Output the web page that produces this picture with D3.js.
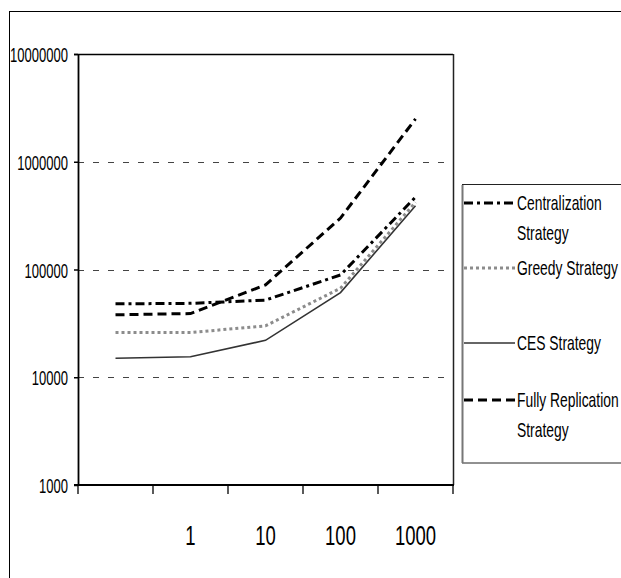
<!DOCTYPE html>
<html><head><meta charset="utf-8">
<script src="https://cdn.jsdelivr.net/npm/d3@7"></script>
<style>
html,body{margin:0;padding:0;background:#fff;}
svg{display:block;font-family:"Liberation Sans",Arial,sans-serif;}
</style></head>
<body><svg id="c" width="621" height="578"></svg>
<script>
const categories = ["", "1", "10", "100", "1000"];
const centralization = [48000, 48500, 52000, 89000, 470000];
const greedy = [26000, 26000, 30000, 67000, 420000];
const ces = [15000, 15500, 22000, 61000, 390000];
const fully = [38000, 39000, 72000, 300000, 2500000];
const yTicks = [1000, 10000, 100000, 1000000, 10000000];
const gridTicks = [10000, 100000, 1000000];
const seriesNames = [["Centralization", "Strategy"], ["Greedy Strategy"], ["CES Strategy"], ["Fully Replication", "Strategy"]];

const svg = d3.select("#c");
const L = 78, R = 453, T = 54, B = 485;

// outer frame
svg.append("rect").attr("x", 9.5).attr("y", 11.5).attr("width", 700).attr("height", 700)
  .attr("fill", "none").attr("stroke", "#000").attr("stroke-width", 1);

const x = d3.scaleBand().domain(d3.range(categories.length)).range([L, R]);
const xp = d3.scalePoint().domain(d3.range(categories.length)).range([L, R]).padding(0.5);
const y = d3.scaleLog().domain([1000, 10000000]).range([B, T]);

// gridlines
svg.append("g").selectAll("line").data(gridTicks).join("line")
  .attr("x1", L).attr("x2", R).attr("y1", d => Math.round(y(d)) + 0.5).attr("y2", d => Math.round(y(d)) + 0.5)
  .attr("stroke", "#444").attr("stroke-width", 1).attr("stroke-dasharray", "6,9");

// plot border top/right
svg.append("line").attr("x1", L - 4).attr("x2", R).attr("y1", T + 0.5).attr("y2", T + 0.5).attr("stroke", "#000").attr("stroke-width", 1.5);
svg.append("line").attr("x1", R + 0.5).attr("x2", R + 0.5).attr("y1", T).attr("y2", B).attr("stroke", "#222").attr("stroke-width", 1.5);

// y axis
const ya = svg.append("g").attr("transform", `translate(${L},0)`)
  .call(d3.axisLeft(y).tickValues(yTicks).tickFormat(d3.format("d")).tickSize(4).tickSizeOuter(0));
ya.select(".domain").attr("stroke", "#000").attr("stroke-width", 1.8);
ya.selectAll(".tick line").attr("stroke", "#000").attr("stroke-width", 1.5);
ya.selectAll(".tick text").attr("x", null).attr("dy", null)
  .attr("transform", "translate(-10,7.5) scale(0.62,1)")
  .attr("text-anchor", "end").attr("font-size", 21).attr("fill", "#000")
  .attr("font-family", "'Liberation Sans', Arial, sans-serif");

// x axis
svg.append("line").attr("x1", L - 4).attr("x2", R + 1).attr("y1", B).attr("y2", B).attr("stroke", "#000").attr("stroke-width", 1.8);
const bounds = categories.map((c, i) => x(i)).concat([x(categories.length - 1) + x.bandwidth()]);
svg.append("g").selectAll("line").data(bounds).join("line")
  .attr("x1", d => d).attr("x2", d => d).attr("y1", B).attr("y2", B + 9)
  .attr("stroke", "#000").attr("stroke-width", 1.3);
svg.append("g").selectAll("text").data(categories).join("text")
  .attr("transform", (d, i) => `translate(${xp(i)},545) scale(0.66,1)`)
  .attr("text-anchor", "middle").attr("font-size", 28).attr("fill", "#000").text(d => d);

// series
const styles = [
  {data: centralization, stroke: "#000", width: 3, dash: "9,4,3,4"},
  {data: greedy, stroke: "#8c8c8c", width: 3, dash: "3,3"},
  {data: ces, stroke: "#333", width: 1.6, dash: null},
  {data: fully, stroke: "#000", width: 3, dash: "9,5"}
];
const line = d3.line().x((d, i) => xp(i)).y(d => y(d));
const drawOrder = [2, 1, 3, 0];
drawOrder.forEach(k => {
  const s = styles[k];
  svg.append("path").datum(s.data).attr("d", line).attr("fill", "none")
    .attr("stroke", s.stroke).attr("stroke-width", s.width)
    .attr("stroke-dasharray", s.dash);
});

// legend
svg.append("rect").attr("x", 462.5).attr("y", 184.5).attr("width", 300).attr("height", 278.5)
  .attr("fill", "#fff").attr("stroke", "#222").attr("stroke-width", 1);
svg.append("line").attr("x1", 462.5).attr("x2", 462.5).attr("y1", 185).attr("y2", 463)
  .attr("stroke", "#777").attr("stroke-width", 2);
const sampleY = [203, 268, 343, 400];
const lineGap = 30;
styles.forEach((s, k) => {
  svg.append("line").attr("x1", 464).attr("x2", 515).attr("y1", sampleY[k]).attr("y2", sampleY[k])
    .attr("stroke", s.stroke).attr("stroke-width", s.width).attr("stroke-dasharray", s.dash);
  seriesNames[k].forEach((t, j) => {
    svg.append("text").attr("transform", `translate(517,${sampleY[k] + 7 + j * lineGap}) scale(0.66,1)`)
      .attr("font-size", 21).attr("fill", "#000").text(t);
  });
});
</script></body></html>
